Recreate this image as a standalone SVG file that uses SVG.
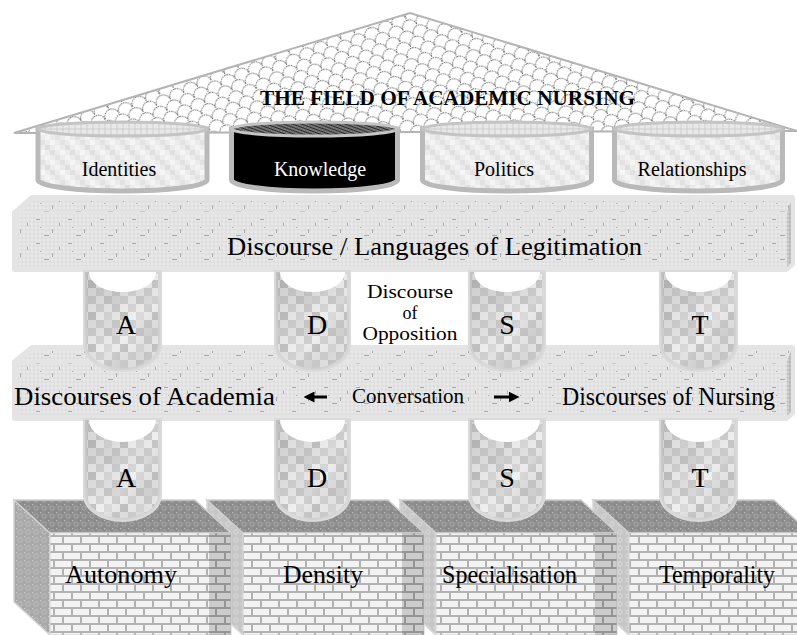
<svg xmlns="http://www.w3.org/2000/svg" width="797" height="635" viewBox="0 0 797 635" font-family="'Liberation Serif', 'Tinos', 'DejaVu Serif', serif">
  <style>
    text { font-family: "Liberation Serif", "Tinos", "DejaVu Serif", serif; fill: #000; }
    .title { font-size: 21px; font-weight: bold; }
    .drum-label { font-size: 20px; text-anchor: middle; }
    .big { font-size: 25px; }
    .mid { font-size: 20px; }
    .opp { font-size: 18px; text-anchor: middle; }
    .letter { font-size: 28px; text-anchor: middle; }
    .drum-body { stroke: #b9b9b9; stroke-width: 5; }
    .drum-top { stroke: #c4c4c4; stroke-width: 3; }
    .pillar { fill: url(#mosaic); stroke: #dadada; stroke-width: 4; }
    .opening { fill: #ffffff; }
    .bar { fill: url(#weave); stroke: #e4e4e4; stroke-width: 6; stroke-linejoin: round; }
    .bar-edge { stroke: #e4e4e4; stroke-width: 3; }
    .bar-side { fill: url(#weaveDark); }
    .box-top { fill: url(#lace); stroke: #cfcfcf; stroke-width: 1.5; }
    .box-side { fill: url(#laceMid); stroke: #d4d4d4; stroke-width: 1.5; }
    .box-side-light { fill: url(#laceLight); stroke: #d8d8d8; stroke-width: 1.5; }
    .box-front { fill: url(#bricks); stroke: #d4d4d4; stroke-width: 1; }
    .box-shade { fill: #000; opacity: 0.16; }
    .arrow { stroke: #000; stroke-width: 3; fill: none; marker-end: url(#head); }
  </style>
  <defs>
    <!-- scalloped roof tiles -->
    <pattern id="scales" width="30" height="18" patternUnits="userSpaceOnUse" patternTransform="rotate(-25)">
      <rect width="30" height="18" fill="#ffffff"/>
      <path d="M0,9 A7.5,7.5 0 0 1 15,9 A7.5,7.5 0 0 1 30,9 M-7.5,18 A7.5,7.5 0 0 1 7.5,18 A7.5,7.5 0 0 1 22.5,18 A7.5,7.5 0 0 1 37.5,18" fill="none" stroke="#444" stroke-width="1" stroke-dasharray="1.5 0.9"/>
    </pattern>
    <!-- dark hatch for the knowledge lid -->
    <pattern id="hatch" width="6" height="6" patternUnits="userSpaceOnUse" patternTransform="rotate(20)">
      <rect width="6" height="6" fill="#9a9a9a"/>
      <path d="M0,1.5H6 M0,4.5H6" stroke="#222" stroke-width="1.4"/>
      <path d="M1.5,0V6 M4.5,0V6" stroke="#555" stroke-width="0.6"/>
    </pattern>
    <!-- light lid pattern -->
    <pattern id="lid" width="6" height="6" patternUnits="userSpaceOnUse">
      <rect width="6" height="6" fill="#e8e8e8"/>
      <path d="M0,3H6 M3,0V6" stroke="#c4c4c4" stroke-width="0.7"/>
    </pattern>
    <!-- fine grid of the discourse bars -->
    <pattern id="weave" width="32" height="24" patternUnits="userSpaceOnUse">
      <rect width="32" height="24" fill="#e9e9e9"/>
      <path d="M0,2H32 M0,6H32 M0,10H32 M0,14H32 M0,18H32 M0,22H32 M2,0V24 M6,0V24 M10,0V24 M14,0V24 M18,0V24 M22,0V24 M26,0V24 M30,0V24" stroke="#d6d6d6" stroke-width="0.7"/>
      <path d="M4,3h4v1h-4z M20,13h1v4h-1z M12,19h5v1h-5z M27,7h1v3h-1z M8,11h1v1h-1z" fill="#ababab"/>
    </pattern>
    <pattern id="weaveDark" width="4" height="4" patternUnits="userSpaceOnUse">
      <rect width="4" height="4" fill="#d0d0d0"/>
      <path d="M0,2H4 M2,0V4" stroke="#a8a8a8" stroke-width="0.7"/>
    </pattern>
    <!-- blocky grey mosaic of the pillars -->
    <pattern id="mosaic" width="32" height="32" patternUnits="userSpaceOnUse">
      <rect width="32" height="32" fill="#dedede"/>
      <rect x="0" y="0" width="8" height="8" fill="#d2d2d2"/>
      <rect x="8" y="0" width="8" height="8" fill="#e2e2e2"/>
      <rect x="16" y="0" width="8" height="8" fill="#cbcbcb"/>
      <rect x="24" y="0" width="8" height="8" fill="#e6e6e6"/>
      <rect x="0" y="8" width="8" height="8" fill="#e8e8e8"/>
      <rect x="8" y="8" width="8" height="8" fill="#c8c8c8"/>
      <rect x="16" y="8" width="8" height="8" fill="#d8d8d8"/>
      <rect x="24" y="8" width="8" height="8" fill="#d0d0d0"/>
      <rect x="0" y="16" width="8" height="8" fill="#d6d6d6"/>
      <rect x="8" y="16" width="8" height="8" fill="#ececec"/>
      <rect x="16" y="16" width="8" height="8" fill="#cecece"/>
      <rect x="24" y="16" width="8" height="8" fill="#efefef"/>
      <rect x="0" y="24" width="8" height="8" fill="#f1f1f1"/>
      <rect x="8" y="24" width="8" height="8" fill="#dadada"/>
      <rect x="16" y="24" width="8" height="8" fill="#ebebeb"/>
      <rect x="24" y="24" width="8" height="8" fill="#c6c6c6"/>
    </pattern>
    <!-- pale mosaic for the drums -->
    <pattern id="mosaicLight" width="20" height="20" patternUnits="userSpaceOnUse">
      <rect width="20" height="20" fill="#ececec"/>
      <rect x="0" y="0" width="5" height="5" fill="#e2e2e2"/>
      <rect x="10" y="0" width="5" height="5" fill="#f5f5f5"/>
      <rect x="5" y="5" width="5" height="5" fill="#dedede"/>
      <rect x="15" y="5" width="5" height="5" fill="#f3f3f3"/>
      <rect x="0" y="10" width="5" height="5" fill="#f6f6f6"/>
      <rect x="10" y="10" width="5" height="5" fill="#e0e0e0"/>
      <rect x="5" y="15" width="5" height="5" fill="#f4f4f4"/>
      <rect x="15" y="15" width="5" height="5" fill="#e3e3e3"/>
    </pattern>
    <!-- lace textures for the box faces -->
    <pattern id="lace" width="8" height="8" patternUnits="userSpaceOnUse">
      <rect width="8" height="8" fill="#8c8c8c"/>
      <circle cx="4" cy="4" r="2.2" fill="none" stroke="#b0b0b0" stroke-width="0.8"/>
      <rect width="1.2" height="1.2" fill="#bdbdbd"/>
    </pattern>
    <pattern id="laceMid" width="8" height="8" patternUnits="userSpaceOnUse">
      <rect width="8" height="8" fill="#a8a8a8"/>
      <circle cx="4" cy="4" r="2.2" fill="none" stroke="#c8c8c8" stroke-width="0.8"/>
      <rect width="1.2" height="1.2" fill="#d0d0d0"/>
    </pattern>
    <pattern id="laceLight" width="8" height="8" patternUnits="userSpaceOnUse">
      <rect width="8" height="8" fill="#c6c6c6"/>
      <circle cx="4" cy="4" r="2.2" fill="none" stroke="#dedede" stroke-width="0.8"/>
    </pattern>
    <!-- brickwork -->
    <pattern id="bricks" width="18" height="16" patternUnits="userSpaceOnUse">
      <rect width="18" height="16" fill="#b2b2b2"/>
      <rect x="1" y="1" width="16" height="6" fill="#f3f3f3"/>
      <rect x="-8" y="9" width="16" height="6" fill="#f3f3f3"/>
      <rect x="10" y="9" width="16" height="6" fill="#f3f3f3"/>
    </pattern>
    <!-- shading across each pillar: darker to the upper left -->
    <linearGradient id="pillarShade" x1="0" y1="0" x2="1" y2="1">
      <stop offset="0" stop-color="#000" stop-opacity="0.12"/>
      <stop offset="0.6" stop-color="#000" stop-opacity="0"/>
      <stop offset="1" stop-color="#fff" stop-opacity="0.2"/>
    </linearGradient>
    <marker id="head" viewBox="0 0 10 10" refX="5" refY="5" markerWidth="11" markerHeight="11" markerUnits="userSpaceOnUse" orient="auto">
      <path d="M0,0 L10,5 L0,10 Z" fill="#000"/>
    </marker>
  </defs>

  <!-- roof -->
  <g id="roof">
    <polygon points="14,133 410,13 797,131" fill="url(#scales)" stroke="#b4b4b4" stroke-width="2"/>
  </g>

  <!-- drums under the roof -->
  <g id="identities">
    <path class="drum-body" d="M38,129 V180 A84.5,11 0 0 0 207,180 V129 Z" fill="url(#mosaicLight)"/>
    <ellipse class="drum-top" cx="122.5" cy="129" rx="84.5" ry="7" fill="url(#lid)"/>
    <text class="drum-label" x="119" y="176">Identities</text>
  </g>
  <g id="knowledge">
    <path class="drum-body" d="M231.5,129 V180 A83,11 0 0 0 397.5,180 V129 Z" fill="#000"/>
    <ellipse class="drum-top" cx="314.5" cy="129" rx="83" ry="7" fill="url(#hatch)"/>
    <text class="drum-label" x="320" y="176" style="fill:#fff">Knowledge</text>
  </g>
  <g id="politics">
    <path class="drum-body" d="M422.5,129 V180 A84.5,11 0 0 0 591.5,180 V129 Z" fill="url(#mosaicLight)"/>
    <ellipse class="drum-top" cx="507" cy="129" rx="84.5" ry="7" fill="url(#lid)"/>
    <text class="drum-label" x="504" y="176">Politics</text>
  </g>
  <g id="relationships">
    <path class="drum-body" d="M614.5,129 V180 A84,11 0 0 0 782.5,180 V129 Z" fill="url(#mosaicLight)"/>
    <ellipse class="drum-top" cx="698.5" cy="129" rx="84" ry="7" fill="url(#lid)"/>
    <text class="drum-label" x="692" y="176">Relationships</text>
  </g>

  <!-- roof title -->
  <g id="title">
    <text class="title" x="260" y="105" textLength="375" lengthAdjust="spacingAndGlyphs">THE FIELD OF ACADEMIC NURSING</text>
  </g>

  <!-- discourse of legitimation bar -->
  <g id="legitimation">
    <polygon class="bar" points="15,213 32,198 792,198 792,264 786,269 15,269"/>
    <line class="bar-edge" x1="15" y1="213" x2="787" y2="213"/>
    <polygon class="bar-side" points="787,212 791,202 791,263 787,267"/>
    <text class="big" x="227" y="255" textLength="415" lengthAdjust="spacingAndGlyphs">Discourse / Languages of Legitimation</text>
  </g>

  <!-- conversation bar -->
  <g id="conversation">
    <polygon class="bar" points="15,362 32,348 792,348 792,413 786,418 15,418"/>
    <line class="bar-edge" x1="15" y1="362" x2="787" y2="362"/>
    <polygon class="bar-side" points="787,361 791,351 791,412 787,416"/>
    <text class="big" x="14" y="405" textLength="261" lengthAdjust="spacingAndGlyphs">Discourses of Academia</text>
    <text class="mid" x="352" y="403" textLength="112" lengthAdjust="spacingAndGlyphs">Conversation</text>
    <text class="big" x="562" y="405" textLength="213" lengthAdjust="spacingAndGlyphs">Discourses of Nursing</text>
  </g>

  <!-- upper pillars -->
  <g id="pillar-a-upper">
    <path class="pillar" d="M85,272 V345 A37.5,25 0 0 0 160,345 V272 Z"/>
    <path d="M85,272 V345 A37.5,25 0 0 0 160,345 V272 Z" fill="url(#pillarShade)"/>
    <path class="opening" d="M89,272 A33.5,20 0 0 0 156,272 Z"/>
    <text class="letter" x="126" y="334">A</text>
  </g>
  <g id="pillar-d-upper">
    <path class="pillar" d="M276,272 V345 A36.5,25 0 0 0 349,345 V272 Z"/>
    <path d="M276,272 V345 A36.5,25 0 0 0 349,345 V272 Z" fill="url(#pillarShade)"/>
    <path class="opening" d="M280,272 A32.5,20 0 0 0 345,272 Z"/>
    <text class="letter" x="317" y="334">D</text>
  </g>
  <g id="pillar-s-upper">
    <path class="pillar" d="M470,272 V345 A37,25 0 0 0 544,345 V272 Z"/>
    <path d="M470,272 V345 A37,25 0 0 0 544,345 V272 Z" fill="url(#pillarShade)"/>
    <path class="opening" d="M474,272 A33,20 0 0 0 540,272 Z"/>
    <text class="letter" x="507" y="334">S</text>
  </g>
  <g id="pillar-t-upper">
    <path class="pillar" d="M661,272 V345 A37.5,25 0 0 0 736,345 V272 Z"/>
    <path d="M661,272 V345 A37.5,25 0 0 0 736,345 V272 Z" fill="url(#pillarShade)"/>
    <path class="opening" d="M665,272 A33.5,20 0 0 0 732,272 Z"/>
    <text class="letter" x="700" y="334">T</text>
  </g>

  <!-- discourse of opposition -->
  <g id="opposition">
    <text class="opp" x="410" y="298" textLength="86" lengthAdjust="spacingAndGlyphs">Discourse</text>
    <text class="opp" x="410" y="319">of</text>
    <text class="opp" x="410" y="340" textLength="95" lengthAdjust="spacingAndGlyphs">Opposition</text>
  </g>

  <!-- brick foundations, drawn right to left so each overlaps the next -->
  <g id="temporality">
    <polygon class="box-side-light" points="593,500 629,533 629,635 593,602"/>
    <polygon class="box-top" points="593,500 774,500 810,533 629,533"/>
    <rect class="box-front" x="629" y="533" width="181" height="102"/>
    <text class="big" x="659" y="583" textLength="116" lengthAdjust="spacingAndGlyphs">Temporality</text>
  </g>
  <g id="specialisation">
    <polygon class="box-side-light" points="400,500 436,533 436,635 400,602"/>
    <polygon class="box-top" points="400,500 581,500 617,533 436,533"/>
    <rect class="box-front" x="436" y="533" width="181" height="102"/>
    <rect class="box-shade" x="595" y="533" width="22" height="102"/>
    <text class="big" x="442" y="583" textLength="135" lengthAdjust="spacingAndGlyphs">Specialisation</text>
  </g>
  <g id="density">
    <polygon class="box-side-light" points="207,500 243,533 243,635 207,602"/>
    <polygon class="box-top" points="207,500 388,500 424,533 243,533"/>
    <rect class="box-front" x="243" y="533" width="181" height="102"/>
    <rect class="box-shade" x="402" y="533" width="22" height="102"/>
    <text class="big" x="283" y="583" textLength="80" lengthAdjust="spacingAndGlyphs">Density</text>
  </g>
  <g id="autonomy">
    <polygon class="box-side" points="14,500 50,533 50,635 14,602"/>
    <polygon class="box-top" points="14,500 195,500 231,533 50,533"/>
    <rect class="box-front" x="50" y="533" width="181" height="102"/>
    <rect class="box-shade" x="209" y="533" width="22" height="102"/>
    <text class="big" x="65" y="583" textLength="112" lengthAdjust="spacingAndGlyphs">Autonomy</text>
  </g>

  <!-- lower pillars -->
  <g id="pillar-a-lower">
    <path class="pillar" d="M85,420 V495 A37.5,25 0 0 0 160,495 V420 Z"/>
    <path d="M85,420 V495 A37.5,25 0 0 0 160,495 V420 Z" fill="url(#pillarShade)"/>
    <path class="opening" d="M89,420 A33.5,22 0 0 0 156,420 Z"/>
    <text class="letter" x="126" y="487">A</text>
  </g>
  <g id="pillar-d-lower">
    <path class="pillar" d="M276,420 V495 A36.5,25 0 0 0 349,495 V420 Z"/>
    <path d="M276,420 V495 A36.5,25 0 0 0 349,495 V420 Z" fill="url(#pillarShade)"/>
    <path class="opening" d="M280,420 A32.5,22 0 0 0 345,420 Z"/>
    <text class="letter" x="317" y="487">D</text>
  </g>
  <g id="pillar-s-lower">
    <path class="pillar" d="M470,420 V495 A37,25 0 0 0 544,495 V420 Z"/>
    <path d="M470,420 V495 A37,25 0 0 0 544,495 V420 Z" fill="url(#pillarShade)"/>
    <path class="opening" d="M474,420 A33,22 0 0 0 540,420 Z"/>
    <text class="letter" x="507" y="487">S</text>
  </g>
  <g id="pillar-t-lower">
    <path class="pillar" d="M661,420 V495 A37.5,25 0 0 0 736,495 V420 Z"/>
    <path d="M661,420 V495 A37.5,25 0 0 0 736,495 V420 Z" fill="url(#pillarShade)"/>
    <path class="opening" d="M665,420 A33.5,22 0 0 0 732,420 Z"/>
    <text class="letter" x="700" y="487">T</text>
  </g>

  <!-- conversation arrows -->
  <g id="connectors">
    <line class="arrow" x1="327" y1="397" x2="309" y2="397"/>
    <line class="arrow" x1="494" y1="397" x2="514" y2="397"/>
  </g>
</svg>
